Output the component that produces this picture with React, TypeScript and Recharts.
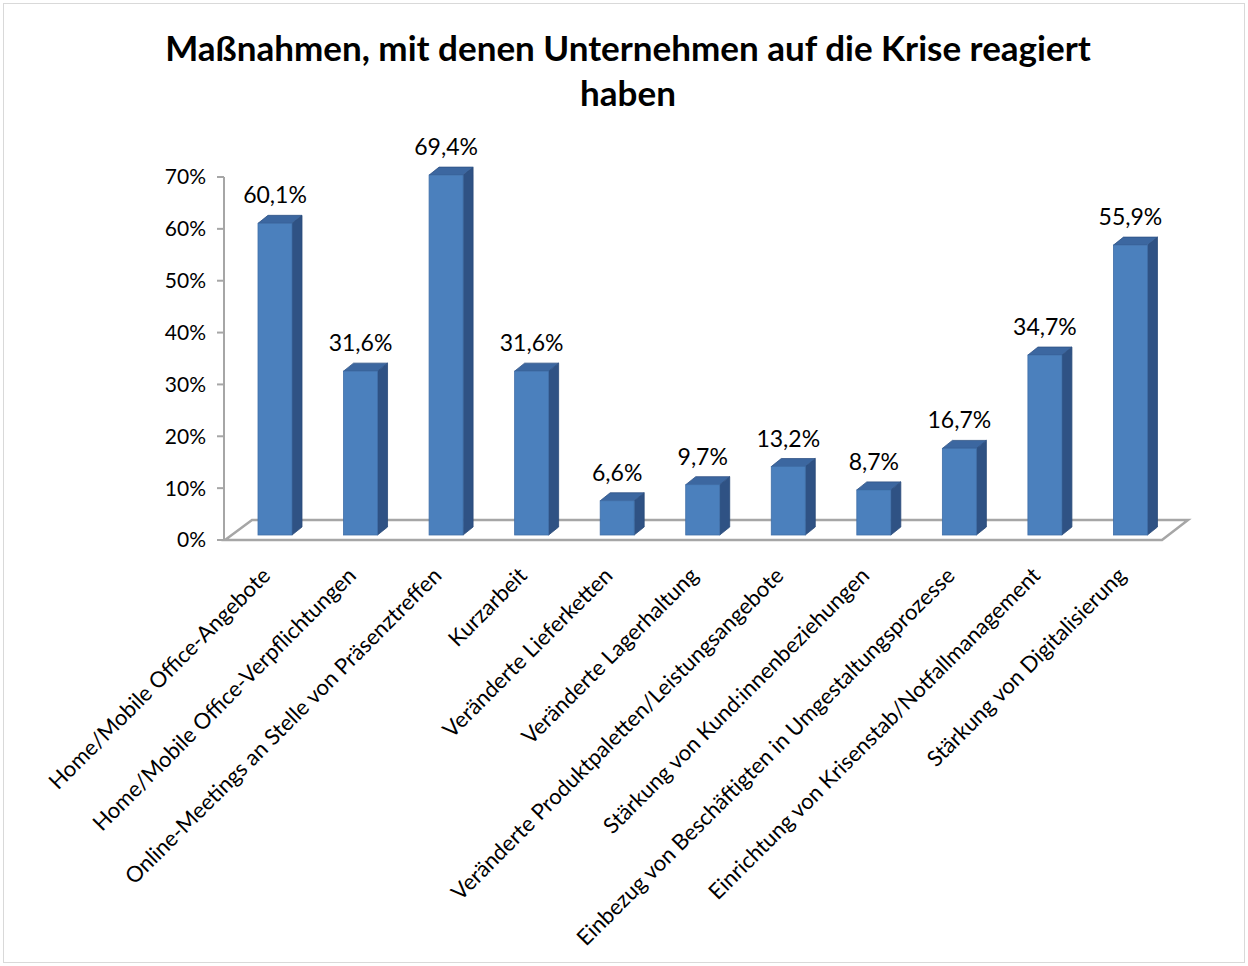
import React from "react";
import {
  BarChart,
  Bar,
  XAxis,
  YAxis,
  LabelList,
  ReferenceArea,
} from "recharts";

const categories = [
  "Home/Mobile Office-Angebote",
  "Home/Mobile Office-Verpflichtungen",
  "Online-Meetings an Stelle von Präsenztreffen",
  "Kurzarbeit",
  "Veränderte Lieferketten",
  "Veränderte Lagerhaltung",
  "Veränderte Produktpaletten/Leistungsangebote",
  "Stärkung von Kund:innenbeziehungen",
  "Einbezug von Beschäftigten in Umgestaltungsprozesse",
  "Einrichtung von Krisenstab/Notfallmanagement",
  "Stärkung von Digitalisierung",
];

const shares = [0.601, 0.316, 0.694, 0.316, 0.066, 0.097, 0.132, 0.087, 0.167, 0.347, 0.559];

const yTicks = [0, 0.1, 0.2, 0.3, 0.4, 0.5, 0.6, 0.7];

const data = categories.map((name, i) => ({ name, value: shares[i] }));

const FONT = "Lato, 'Open Sans', sans-serif";
const LIFT = 5; // bars stand a bit behind the front edge of the floor
const DX = 10;
const DY = 8;

const pct = (v: number) => `${Math.round(v * 100)}%`;
const pctLabel = (v: number) => `${(v * 100).toFixed(1).replace(".", ",")}%`;

function Bar3D(props: any) {
  const { x, y, width, height } = props;
  if (width == null || height == null) return null;
  const top = y - LIFT;
  const bottom = y + height - LIFT;
  const right = x + width;
  return (
    <g>
      <polygon
        points={`${right},${top} ${right + DX},${top - DY} ${right + DX},${bottom - DY} ${right},${bottom}`}
        fill="#2f5284"
        stroke="#2a4a78"
        strokeWidth={0.8}
      />
      <polygon
        points={`${x},${top} ${x + DX},${top - DY} ${right + DX},${top - DY} ${right},${top}`}
        fill="#3c67a0"
        stroke="#2f5284"
        strokeWidth={0.8}
      />
      <rect x={x} y={top} width={width} height={bottom - top} fill="#4b80bd" stroke="#3f6ea8" strokeWidth={0.8} />
    </g>
  );
}

function Floor(props: any) {
  const { x, y, height } = props;
  const base = y + height;
  const left = x - 7;
  const right = 1162;
  return (
    <polygon
      points={`${left},${base} ${left + 27},${base - 20} ${right + 26},${base - 20} ${right},${base}`}
      fill="#ffffff"
      stroke="#a6a6a6"
      strokeWidth={2.5}
    />
  );
}

function CatTick(props: any) {
  const { x, payload } = props;
  const ax = x - 3;
  const ay = 577;
  return (
    <text
      x={ax}
      y={ay}
      transform={`rotate(-45, ${ax}, ${ay})`}
      textAnchor="end"
      fontSize={22}
      fontFamily={FONT}
      fill="#000"
    >
      {payload.value}
    </text>
  );
}

function ValueLabel(props: any) {
  const { x, y, width, value } = props;
  return (
    <text
      x={x + width / 2}
      y={y - 25}
      textAnchor="middle"
      fontSize={23}
      fontFamily={FONT}
      fill="#000"
    >
      {pctLabel(value)}
    </text>
  );
}

export default function App() {
  return (
    <div style={{ position: "absolute", left: 0, top: 0, width: 1248, height: 966, background: "#fff" }}>
      <div
        style={{
          position: "absolute",
          left: 3,
          top: 3,
          width: 1240,
          height: 958,
          border: "1px solid #d9d9d9",
        }}
      />
      <div
        style={{
          position: "absolute",
          left: 0,
          top: 25,
          width: 1256,
          textAlign: "center",
          fontFamily: FONT,
          fontWeight: 700,
          fontSize: 35,
          lineHeight: "45px",
          color: "#000",
        }}
      >
        Maßnahmen, mit denen Unternehmen auf die Krise reagiert
        <br />
        haben
      </div>
      <div style={{ position: "absolute", left: 0, top: 0 }}>
        <BarChart
          width={1248}
          height={966}
          data={data}
          margin={{ top: 177, left: 164, right: 75, bottom: 396 }}
        >
          <YAxis
            width={60}
            domain={[0, 0.7]}
            ticks={yTicks}
            tickFormatter={pct}
            interval={0}
            axisLine={{ stroke: "#a6a6a6", strokeWidth: 2 }}
            tickLine={{ stroke: "#a6a6a6", strokeWidth: 2 }}
            tickSize={7}
            tickMargin={11}
            tick={{ fill: "#000", fontSize: 21, fontFamily: FONT }}
          />
          <XAxis
            dataKey="name"
            height={30}
            interval={0}
            axisLine={false}
            tickLine={false}
            padding={{ left: 8, right: 0 }}
            tick={<CatTick />}
          />
          <ReferenceArea y1={0} y2={0.0001} shape={<Floor />} ifOverflow="visible" />
          <Bar dataKey="value" barSize={34} isAnimationActive={false} shape={<Bar3D />}>
            <LabelList dataKey="value" content={<ValueLabel />} />
          </Bar>
        </BarChart>
      </div>
    </div>
  );
}
